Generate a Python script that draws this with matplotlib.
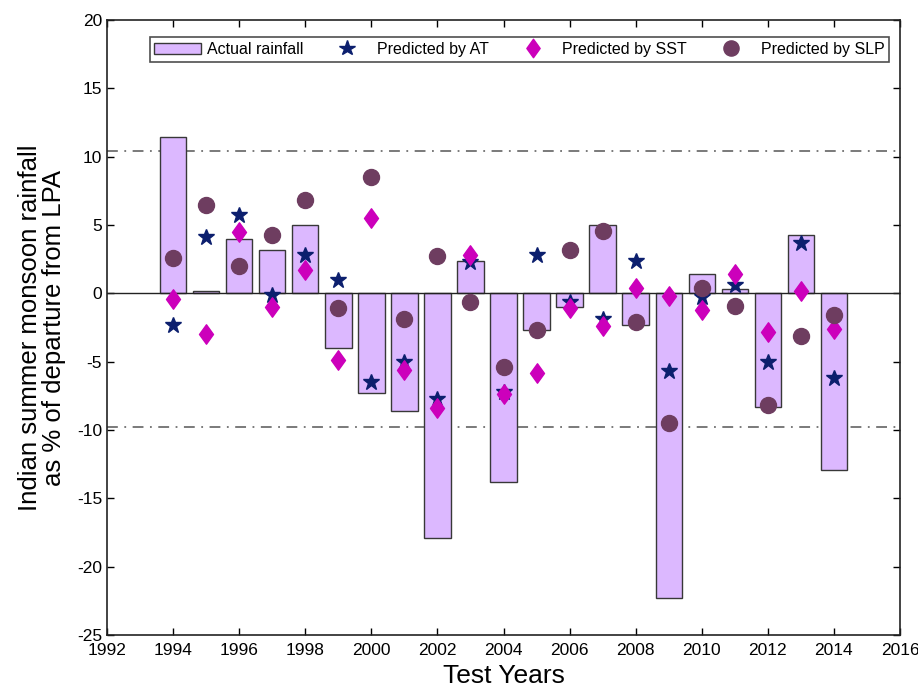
import numpy as np
import matplotlib
matplotlib.use("Agg")
import matplotlib.pyplot as plt
from matplotlib.path import Path

plt.rcParams['font.family'] = ['Liberation Sans', 'DejaVu Sans']
plt.rcParams['axes.unicode_minus'] = False

# Test years and rainfall departure (% of LPA)
years = list(range(1994, 2015))
actual = [11.45, 0.2, 4.0, 3.2, 5.0, -4.0, -7.3, -8.6, -17.9, 2.4, -13.8,
          -2.7, -1.0, 5.0, -2.3, -22.3, 1.4, 0.3, -8.3, 4.3, -12.9]
pred_at = [-2.3, 4.1, 5.7, -0.1, 2.8, 1.0, -6.5, -5.0, -7.7, 2.3, -7.2,
           2.8, -0.6, -1.9, 2.4, -5.7, -0.3, 0.6, -5.0, 3.7, -6.2]
pred_sst = [-0.4, -3.0, 4.5, -1.0, 1.7, -4.9, 5.5, -5.6, -8.4, 2.8, -7.4,
            -5.8, -1.1, -2.4, 0.4, -0.2, -1.2, 1.4, -2.8, 0.2, -2.6]
pred_slp = [2.6, 6.5, 2.0, 4.3, 6.8, -1.1, 8.5, -1.9, 2.7, -0.6, -5.4,
            -2.7, 3.2, 4.6, -2.1, -9.5, 0.4, -0.9, -8.2, -3.1, -1.6]
upper_limit = 10.45
lower_limit = -9.8

# wider diamond than matplotlib's 'd'
diamond = Path([(0, 1), (0.72, 0), (0, -1), (-0.72, 0), (0, 1)],
               [Path.MOVETO, Path.LINETO, Path.LINETO, Path.LINETO, Path.CLOSEPOLY])

fig = plt.figure(figsize=(9.18, 6.91), dpi=100)
ax = fig.add_axes([0.1166, 0.081, 0.8638, 0.890])

bars = ax.bar(years, actual, width=0.8, color='#dcb8ff', edgecolor='#383838',
              linewidth=1.0, label='Actual rainfall', zorder=2)
ax.axhline(0, color='#222222', linewidth=1.0, zorder=3)
dashdot = (0, (6, 3.6, 1, 3.6))
ax.axhline(upper_limit, color='#707070', linewidth=1.3, linestyle=dashdot, zorder=1)
ax.axhline(lower_limit, color='#707070', linewidth=1.3, linestyle=dashdot, zorder=1)

l_at, = ax.plot(years, pred_at, linestyle='none', marker='*', markersize=12,
                color='#0c1f6e', label='Predicted by AT', zorder=4)
l_sst, = ax.plot(years, pred_sst, linestyle='none', marker=diamond, markersize=14,
                 color='#cc00bb', label='Predicted by SST', zorder=5)
l_slp, = ax.plot(years, pred_slp, linestyle='none', marker='o', markersize=11.5,
                 color='#6e3d60', label='Predicted by SLP', zorder=6)

ax.set_xlim(1992, 2016)
ax.set_ylim(-25, 20)
ax.set_xticks(range(1992, 2017, 2))
ax.set_yticks(range(-25, 21, 5))
ax.tick_params(direction='in', top=True, right=True, labelsize=12.5,
               length=5, width=1)
ax.tick_params(axis='x', pad=6)
for s in ax.spines.values():
    s.set_linewidth(1.2)
    s.set_color('#222222')

ax.set_xlabel('Test Years', fontsize=19, labelpad=4)
ax.set_ylabel('Indian summer monsoon rainfall\nas % of departure from LPA',
              fontsize=18.5, labelpad=8, linespacing=1.0)

leg = ax.legend([bars, l_at, l_sst, l_slp],
                ['Actual rainfall', 'Predicted by AT', 'Predicted by SST', 'Predicted by SLP'],
                loc='upper center', bbox_to_anchor=(0.52, 0.972), borderaxespad=0,
                ncol=4, fontsize=11.5, frameon=True, fancybox=False,
                edgecolor='#222222', columnspacing=1.3, handlelength=2.9,
                borderpad=0.3, handletextpad=0.4, markerscale=0.95)
leg.get_frame().set_linewidth(1.2)

fig.savefig('out.png', dpi=100)
